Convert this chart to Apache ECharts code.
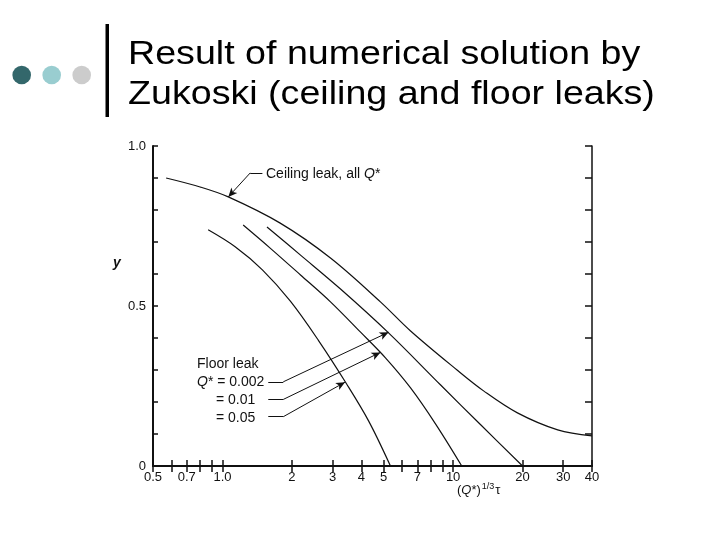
<!DOCTYPE html>
<html>
<head>
<meta charset="utf-8">
<script src="https://cdn.jsdelivr.net/npm/echarts@6/dist/echarts.min.js"></script>
<style>
  html, body { margin: 0; padding: 0; background: #fff; }
  #chart { width: 720px; height: 540px; }
</style>
</head>
<body>
<div id="chart"></div>
<script>
// tick positions / labels
var xTickValues = [0.5, 0.6, 0.7, 0.8, 0.9, 1, 2, 3, 4, 5, 6, 7, 8, 9, 10, 20, 30, 40];
var xLabelValues = [0.5, 0.7, 1, 2, 3, 4, 5, 7, 10, 20, 30, 40];
var yLabelValues = [0, 0.5, 1];

// curves: [(Q*)^1/3 tau, y]
var ceilingLeak = [[0.57, 0.900], [0.80, 0.872], [1.06, 0.841], [1.78, 0.759], [2.94, 0.650],
  [4.84, 0.513], [6.54, 0.422], [10.4, 0.300], [13.6, 0.234], [19.0, 0.166], [28.4, 0.113], [40, 0.094]];
var floorQ0002 = [[1.56, 0.747], [2.18, 0.659], [3.25, 0.553], [5.25, 0.416], [8.83, 0.253], [13.2, 0.128], [20, 0]];
var floorQ001 = [[1.23, 0.753], [1.61, 0.681], [2.18, 0.597], [2.94, 0.513], [3.96, 0.419],
  [5.09, 0.338], [6.54, 0.244], [8.40, 0.131], [10.9, 0]];
var floorQ005 = [[0.867, 0.738], [1.135, 0.685], [1.49, 0.613], [1.97, 0.515], [2.61, 0.392],
  [3.45, 0.257], [4.30, 0.141], [5.35, 0]];

// leader lines: [label end, bend, arrow tip]
var ceilingLeader = [[1.49, 0.916], [1.32, 0.916], [1.06, 0.841]];
var leader0002 = [[1.58, 0.263], [1.835, 0.263], [5.25, 0.418]];
var leader001 = [[1.58, 0.208], [1.835, 0.208], [4.84, 0.355]];
var leader005 = [[1.58, 0.154], [1.835, 0.154], [3.40, 0.262]];

var ink = '#111';

function fmtX(v) {
  if (v < 0.95) return (Math.round(v * 10) / 10).toFixed(1);
  if (Math.abs(v - 1) < 0.01) return '1.0';
  return String(Math.round(v));
}

function leader(pts) {
  return [
    [{ coord: pts[0], symbol: 'none' }, { coord: pts[1], symbol: 'none' }],
    [{ coord: pts[1], symbol: 'none' }, { coord: pts[2], symbol: 'arrow' }]
  ];
}

function curve(data, marks) {
  var s = {
    type: 'line',
    data: data,
    smooth: 0.35,
    showSymbol: false,
    silent: true,
    lineStyle: { color: ink, width: 1.2 },
    itemStyle: { color: ink }
  };
  if (marks) {
    s.markLine = {
      silent: true,
      symbolSize: [6, 9],
      label: { show: false },
      lineStyle: { color: ink, width: 1, type: 'solid' },
      data: marks
    };
  }
  return s;
}

var xBase = {
  type: 'log',
  logBase: 10,
  min: 0.5,
  max: 40,
  splitLine: { show: false },
  minorTick: { show: false }
};

var chart = echarts.init(document.getElementById('chart'));
chart.setOption({
  animation: false,
  backgroundColor: '#fff',
  textStyle: { fontFamily: 'Liberation Sans, Arial, sans-serif' },
  grid: { left: 153, right: 128, top: 146, bottom: 74 },
  xAxis: [
    Object.assign({}, xBase, {
      position: 'bottom',
      axisLine: { lineStyle: { color: ink, width: 2 } },
      axisTick: { inside: true, length: 6, customValues: xTickValues, lineStyle: { color: ink, width: 1.5 } },
      axisLabel: {
        customValues: xLabelValues,
        formatter: fmtX,
        color: ink,
        fontSize: 13,
        margin: 5
      }
    }),
    Object.assign({}, xBase, {
      position: 'top',
      axisLine: { lineStyle: { color: ink, width: 1.5 } },
      axisTick: { inside: true, length: 6, customValues: xTickValues, lineStyle: { color: ink, width: 1.5 } },
      axisLabel: { show: false }
    })
  ],
  yAxis: [
    {
      type: 'value',
      min: 0,
      max: 1,
      interval: 0.1,
      position: 'left',
      splitLine: { show: false },
      axisLine: { show: true, lineStyle: { color: ink, width: 2 } },
      axisTick: { show: true, inside: true, length: 5, lineStyle: { color: ink, width: 1.5 } },
      axisLabel: {
        customValues: yLabelValues,
        formatter: function (v) { return v === 0 ? '0' : v.toFixed(1); },
        color: ink,
        fontSize: 13,
        margin: 7
      }
    },
    {
      type: 'value',
      min: 0,
      max: 1,
      interval: 0.1,
      position: 'right',
      splitLine: { show: false },
      axisLine: { show: true, lineStyle: { color: ink, width: 1.5 } },
      axisTick: { show: true, inside: true, length: 7, lineStyle: { color: ink, width: 1.5 } },
      axisLabel: { show: false }
    }
  ],
  series: [
    curve(ceilingLeak, leader(ceilingLeader)),
    curve(floorQ0002, leader(leader0002)),
    curve(floorQ001, leader(leader001)),
    curve(floorQ005, leader(leader005))
  ],
  graphic: [
    // slide decoration
    { type: 'circle', shape: { cx: 21.7, cy: 75, r: 9.3 }, style: { fill: '#33676b' } },
    { type: 'circle', shape: { cx: 51.7, cy: 75, r: 9.3 }, style: { fill: '#99cdd0' } },
    { type: 'circle', shape: { cx: 81.7, cy: 75, r: 9.3 }, style: { fill: '#cccccc' } },
    { type: 'rect', shape: { x: 105.5, y: 24, width: 3.5, height: 93 }, style: { fill: '#000' } },
    {
      type: 'text', x: 128, y: 55, scaleX: 1.14,
      style: { text: 'Result of numerical solution by', font: '33px "Liberation Sans", Arial, sans-serif', fill: '#000', textVerticalAlign: 'middle' }
    },
    {
      type: 'text', x: 128, y: 95, scaleX: 1.14,
      style: { text: 'Zukoski (ceiling and floor leaks)', font: '33px "Liberation Sans", Arial, sans-serif', fill: '#000', textVerticalAlign: 'middle' }
    },
    // annotations
    {
      type: 'text', x: 266, y: 174,
      style: {
        text: 'Ceiling leak, all {i|Q}*',
        fill: ink, font: '14px "Liberation Sans", Arial, sans-serif', textVerticalAlign: 'middle',
        rich: { i: { fontStyle: 'italic', fontSize: 14, fill: ink } }
      }
    },
    {
      type: 'text', x: 197, y: 364,
      style: { text: 'Floor leak', fill: ink, font: '14px "Liberation Sans", Arial, sans-serif', textVerticalAlign: 'middle' }
    },
    {
      type: 'text', x: 197, y: 382,
      style: {
        text: '{i|Q}* = 0.002',
        fill: ink, font: '14px "Liberation Sans", Arial, sans-serif', textVerticalAlign: 'middle',
        rich: { i: { fontStyle: 'italic', fontSize: 14, fill: ink } }
      }
    },
    {
      type: 'text', x: 216, y: 400,
      style: { text: '= 0.01', fill: ink, font: '14px "Liberation Sans", Arial, sans-serif', textVerticalAlign: 'middle' }
    },
    {
      type: 'text', x: 216, y: 418,
      style: { text: '= 0.05', fill: ink, font: '14px "Liberation Sans", Arial, sans-serif', textVerticalAlign: 'middle' }
    },
    // axis names
    {
      type: 'text', x: 113, y: 263,
      style: { text: 'y', fill: ink, font: 'italic bold 14px "Liberation Sans", Arial, sans-serif', textVerticalAlign: 'middle' }
    },
    {
      type: 'text', x: 457, y: 490,
      style: {
        text: '({i|Q}*){s|1/3}τ',
        fill: ink, font: '13px "Liberation Sans", Arial, sans-serif', textVerticalAlign: 'middle',
        rich: {
          i: { fontStyle: 'italic', fontSize: 13, fill: ink },
          s: { fontSize: 9, fill: ink, verticalAlign: 'top', padding: [0, 1, 6, 1] }
        }
      }
    }
  ]
});
</script>
</body>
</html>
